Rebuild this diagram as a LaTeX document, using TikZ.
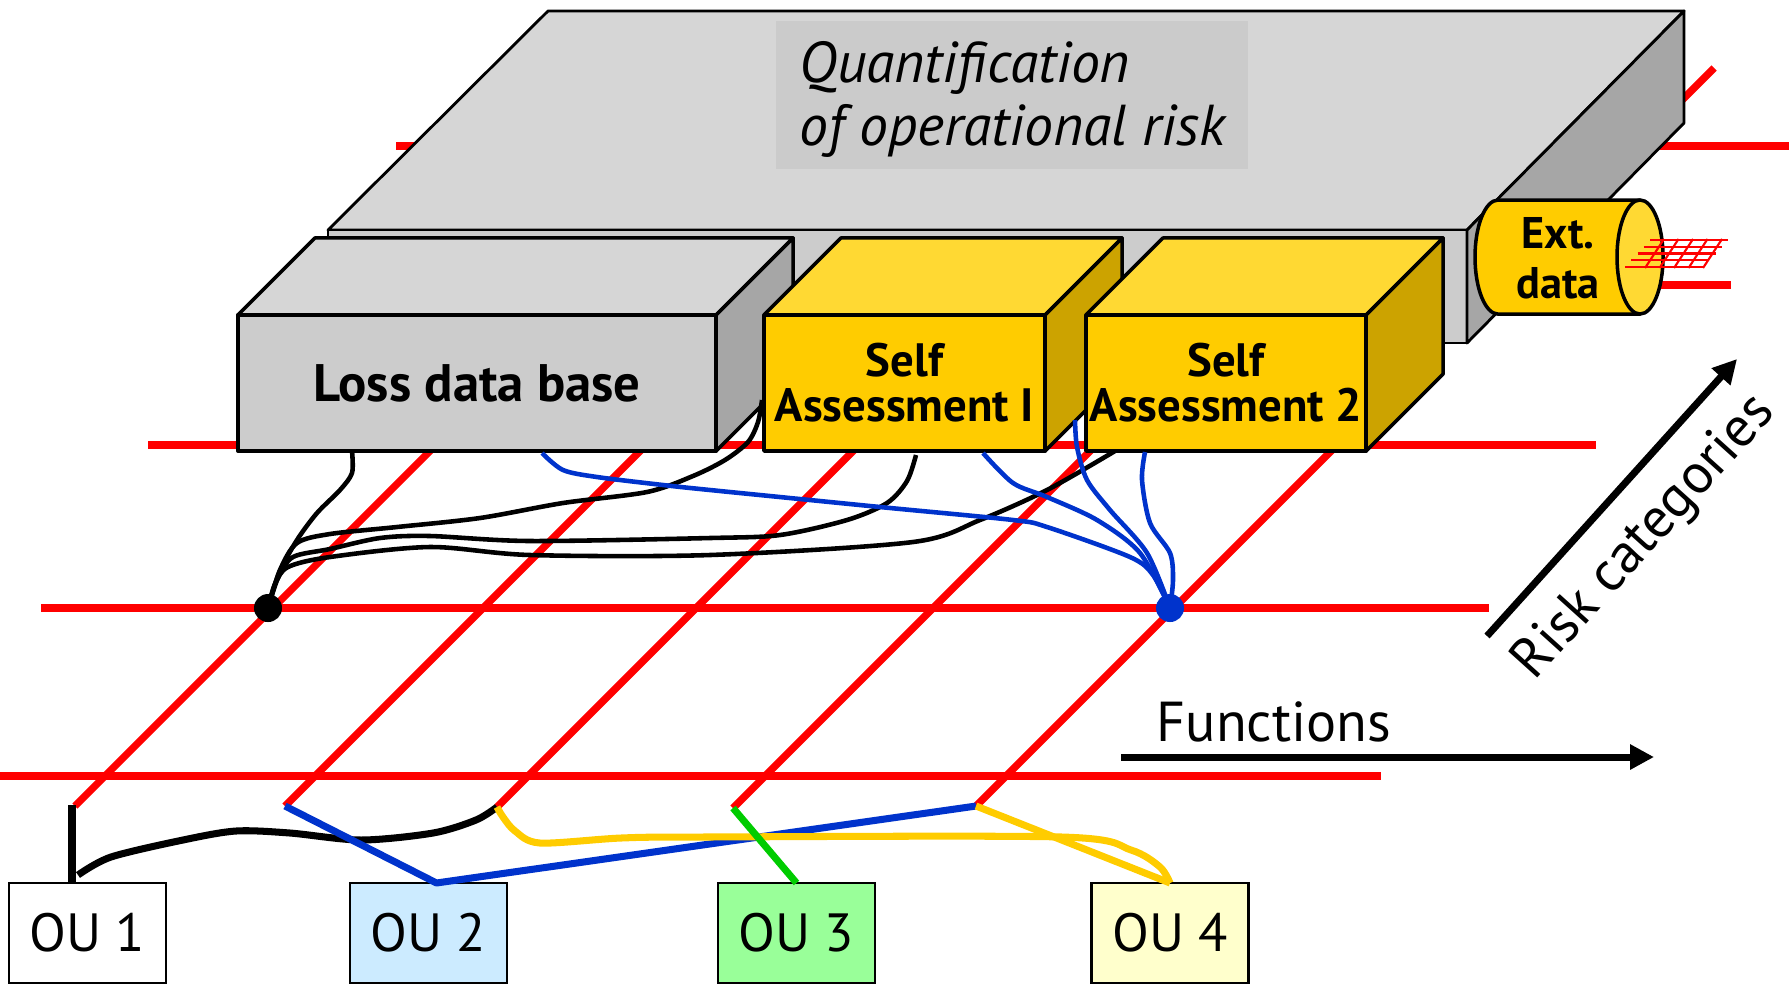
\documentclass[tikz,border=0pt]{standalone}
\usepackage{fontspec}
\setmainfont{PT Sans}
\usetikzlibrary{arrows.meta, positioning, calc}

\definecolor{wblue}{RGB}{0,51,204}
\definecolor{wyellow}{RGB}{255,204,0}
\definecolor{wgreen}{RGB}{0,204,0}
\definecolor{graytop}{RGB}{214,214,214}
\definecolor{grayfront}{RGB}{204,204,204}
\definecolor{grayside}{RGB}{166,166,166}
\definecolor{qgray}{RGB}{203,203,203}
\definecolor{yeltop}{RGB}{255,217,51}
\definecolor{yelfront}{RGB}{255,204,0}
\definecolor{yelside}{RGB}{204,163,0}
\definecolor{ou2fill}{RGB}{204,235,255}
\definecolor{ou3fill}{RGB}{153,255,153}
\definecolor{ou4fill}{RGB}{255,255,204}

\begin{document}
\begin{tikzpicture}[x=0.01cm, y=-0.01cm,
    gridline/.style={red, line width=2.1pt},
    face/.style={draw, line width=1pt, line join=round},
    cube/.style={face, minimum width=#1, minimum height=1.36cm, inner sep=0pt, outer sep=0pt, align=center},
    oubox/.style={draw, line width=0.7pt, minimum width=1.57cm, minimum height=1cm, inner sep=0pt, outer sep=0pt, font=\fontsize{15.3}{18}\selectfont},
    joint/.style={circle, inner sep=0pt, minimum size=0.28cm},
    wire/.style={line width=1.3pt, line join=round},
    link/.style={line width=2pt, line join=round},
    axisarrow/.style={line width=2pt, -{Triangle[length=0.24cm, width=0.24cm]}},
    axislabel/.style={font=\fontsize{16}{19}\selectfont, inner sep=0pt},
]
\useasboundingbox (0,0) rectangle (1789,984);

% risk grid
\coordinate (f1) at (75,806);
\coordinate (f2) at (285,806);
\coordinate (f3) at (497,807);
\coordinate (f4) at (733,808);
\coordinate (f5) at (976,806);
\draw[gridline] (396,146) -- (1789,146);
\draw[gridline] (400,285) -- (1731,285);
\draw[gridline] (148,445) -- (1596,445);
\draw[gridline] (41,608) -- (1489,608);
\draw[gridline] (0,776) -- (1381,776);
\foreach \f/\l in {f1/650, f2/650, f3/650, f4/650, f5/738}
    \draw[gridline] (\f) -- ++(\l,-\l);

% quantification slab
\filldraw[face, line width=0.8pt, fill=graytop] (548,11) -- (1684,11) -- (1467,230) -- (328,230) -- cycle;
\filldraw[face, line width=0.8pt, fill=grayfront] (328,230) rectangle (1467,343);
\filldraw[face, line width=0.8pt, fill=grayside] (1467,230) -- (1684,11) -- (1684,123) -- (1467,343) -- cycle;
\fill[qgray] (776,21) rectangle (1248,169);
\node[anchor=base west, inner sep=0pt, font=\fontsize{16.4}{20}\selectfont\itshape] (q1) at (799,82) {Quantification};
\node[anchor=base west, inner sep=0pt, font=\fontsize{16.4}{20}\selectfont\itshape] (q2) at (799,145) {of operational risk};

% data sources
\node[cube=4.78cm, fill=grayfront, font=\fontsize{15}{18}\selectfont\bfseries] (ldb) at (477,383) {Loss data base};
\filldraw[face, fill=graytop] (ldb.north west) -- ++(77,-77) -- ($(ldb.north east)+(77,-77)$) -- (ldb.north east) -- cycle;
\filldraw[face, fill=grayside] (ldb.north east) -- ++(77,-77) -- ($(ldb.south east)+(77,-77)$) -- (ldb.south east) -- cycle;

\node[cube=2.81cm, fill=yelfront, font=\fontsize{13.3}{12.8}\selectfont\bfseries] (sa1) at (904.5,383) {Self\\Assessment I};
\filldraw[face, fill=yeltop] (sa1.north west) -- ++(77,-77) -- ($(sa1.north east)+(77,-77)$) -- (sa1.north east) -- cycle;
\filldraw[face, fill=yelside] (sa1.north east) -- ++(77,-77) -- ($(sa1.south east)+(77,-77)$) -- (sa1.south east) -- cycle;

\node[cube=2.80cm, fill=yelfront, font=\fontsize{13.3}{12.8}\selectfont\bfseries] (sa2) at (1226,383) {Self\\Assessment 2};
\filldraw[face, fill=yeltop] (sa2.north west) -- ++(77,-77) -- ($(sa2.north east)+(77,-77)$) -- (sa2.north east) -- cycle;
\filldraw[face, fill=yelside] (sa2.north east) -- ++(77,-77) -- ($(sa2.south east)+(77,-77)$) -- (sa2.south east) -- cycle;

% external data
\filldraw[face, fill=yelfront] (1640,200) -- (1498,200) arc[start angle=90, end angle=270, x radius=0.23cm, y radius=0.57cm] -- (1640,314) -- cycle;
\filldraw[face, fill=yeltop] (1640,257) ellipse[x radius=0.23cm, y radius=0.57cm];
\node[align=center, inner sep=0pt, font=\fontsize{12.6}{14.2}\selectfont\bfseries] (ext) at (1558,258) {Ext.\\data};
\foreach \i in {0,...,4}
    \draw[red, line width=0.6pt] (1650-6.25*\i,240+6.75*\i) -- ++(78,0);
\foreach \i in {0,...,4}
    \draw[red, line width=0.6pt] (1645+14.5*\i,268) -- ++(19,-29);

% organisational units
\node[oubox] (ou1) at (87.5,933) {OU 1};
\node[oubox, fill=ou2fill] (ou2) at (428.5,933) {OU 2};
\node[oubox, fill=ou3fill] (ou3) at (796.5,933) {OU 3};
\node[oubox, fill=ou4fill] (ou4) at (1170,933) {OU 4};

% aggregation points
\node[joint, fill=black] (kdot) at (268,608) {};
\node[joint, fill=wblue] (bdot) at (1170,608) {};

% loss data links
\coordinate (a1) at (352,451);
\coordinate (a2) at (762,400);
\coordinate (a3) at (916,455);
\coordinate (a4) at (1115,451);
\draw[wire] plot[smooth] coordinates {(a1) (352,473) (340,490) (317,513) (297,540) (279,573) (kdot)};
\draw[wire] plot[smooth] coordinates {(kdot) (280,570) (297,543) (330,534) (397,527) (480,518) (563,503) (647,492) (693,476) (725,460) (748,442) (758,422) (a2)};
\draw[wire] plot[smooth] coordinates {(kdot) (278,578) (293,557) (330,549) (380,538) (430,536) (530,541) (710,538) (780,535) (847,520) (887,503) (907,481) (a3)};
\draw[wire] plot[smooth] coordinates {(kdot) (275,584) (288,567) (330,557) (430,547) (530,555) (710,555) (913,542) (980,520) (1047,490) (a4)};

% self assessment links
\coordinate (b1) at (542,453);
\coordinate (b2) at (983,453);
\coordinate (b3) at (1075,420);
\coordinate (b4) at (1145,452);
\draw[wire, wblue] plot[smooth] coordinates {(b1) (563,470) (597,477) (663,485) (710,490) (880,507) (1013,520) (1047,527) (1130,557) (1153,575) (bdot)};
\draw[wire, wblue] plot[smooth] coordinates {(b2) (1013,483) (1047,497) (1097,520) (1140,553) (bdot)};
\draw[wire, wblue] plot[smooth] coordinates {(b3) (1077,447) (1087,480) (1110,510) (1147,553) (bdot)};
\draw[wire, wblue] plot[smooth] coordinates {(b4) (1142,480) (1150,523) (1170,553) (1173,580) (bdot)};

% unit links
\coordinate (t1) at (72,805);
\coordinate (k1) at (78,875);
\draw[link] (t1) -- (t1 |- ou1.north);
\draw[link] plot[smooth] coordinates {(k1) (111,857) (183,840) (236,831) (290,833) (361,840) (433,833) (476,820) (f3)};
\draw[link, wblue] (f2) -- ([xshift=0.08cm]ou2.north) -- (f5);
\draw[link, wyellow] plot[smooth] coordinates {(f3) (503,817) (515,831) (540,843) (621,838) (700,837) (1062,837) (1131,850) (1160,867) (ou4.north)};
\draw[link, wyellow] (f5) -- (ou4.north);
\draw[link, wgreen] (f4) -- (ou3.north);

% axes
\coordinate (fn0) at (1121,757);
\coordinate (fn1) at (1654,757);
\draw[axisarrow] (fn0) -- (fn1);
\node[axislabel, anchor=base west] (fnl) at (1156,741) {Functions};
\coordinate (rc0) at (1487,636);
\coordinate (rc1) at (1737,359);
\draw[axisarrow] (rc0) -- (rc1);
\node[axislabel, rotate=48] (rcl) at (1645,538) {Risk categories};
\end{tikzpicture}
\end{document}
